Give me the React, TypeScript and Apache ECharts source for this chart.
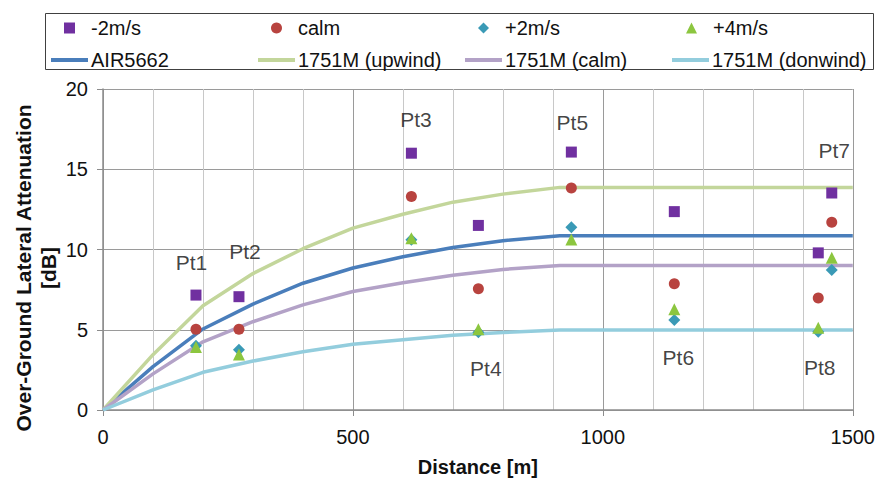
import React, { useEffect, useRef } from "react";
import * as echarts from "echarts";

// Measured points (distance in m)
const pointX = [186, 272, 617, 751, 937, 1143, 1458, 1431];
const minus2 = [7.16, 7.06, 16.0, 11.5, 16.07, 12.36, 13.52, 9.79];
const calm = [5.03, 5.03, 13.3, 7.56, 13.83, 7.87, 11.7, 6.98];
const plus2 = [4.0, 3.75, 10.6, 4.85, 11.39, 5.61, 8.72, 4.87];
const plus4 = [3.93, 3.46, 10.7, 5.03, 10.62, 6.27, 9.48, 5.13];

// Model curves
const lineX = [0, 100, 200, 300, 400, 500, 600, 700, 800, 914, 1500];
const air5662 = [0, 2.7, 5.05, 6.6, 7.9, 8.85, 9.55, 10.12, 10.55, 10.86, 10.86];
const m1751Up = [0, 3.45, 6.5, 8.5, 10.05, 11.33, 12.2, 12.95, 13.45, 13.87, 13.87];
const m1751Calm = [0, 2.25, 4.25, 5.5, 6.55, 7.38, 7.93, 8.4, 8.76, 9.0, 9.0];
const m1751Down = [0, 1.25, 2.35, 3.05, 3.63, 4.1, 4.38, 4.65, 4.83, 4.99, 4.99];

// Point annotations
const ptNames = ["Pt1", "Pt2", "Pt3", "Pt4", "Pt5", "Pt6", "Pt7", "Pt8"];
const ptLabelX = [177, 284, 626, 766, 939, 1151, 1463, 1434];
const ptLabelY = [9.17, 9.89, 18.12, 2.59, 17.9, 3.27, 16.15, 2.65];

const FONT = "'Liberation Sans', Arial, sans-serif";

export default function App() {
  const ref = useRef<HTMLDivElement>(null);
  useEffect(() => {
    if (!ref.current) return;
    const chart = echarts.init(ref.current, undefined, { renderer: "svg" });
    const pts = (ys: number[]) => pointX.map((x, i) => [x, ys[i]]);
    const ln = (ys: number[]) => lineX.map((x, i) => [x, ys[i]]);
    const lineSeries = (name: string, ys: number[], color: string) => ({
      type: "line",
      name,
      data: ln(ys),
      symbol: "none",
      smooth: false,
      lineStyle: { color, width: 3.5 },
      itemStyle: { color },
      z: 2,
    });
    const scatterSeries = (name: string, ys: number[], symbol: string, color: string, size: number) => ({
      type: "scatter",
      name,
      data: pts(ys),
      symbol,
      symbolSize: size,
      itemStyle: { color, opacity: 1 },
      z: 3,
    });
    const scatterLegend = (name: string, left: number, top: number) => ({
      left,
      top,
      padding: 0,
      itemWidth: 11,
      itemHeight: 11,
      data: [name],
      textStyle: { fontSize: 20, color: "#111", fontFamily: FONT, padding: [0, 0, 0, 11] },
    });
    const lineLegend = (name: string, left: number, top: number) => ({
      left,
      top,
      padding: 0,
      itemWidth: 37,
      itemHeight: 4,
      icon: "rect",
      data: [name],
      textStyle: { fontSize: 20, color: "#111", fontFamily: FONT, padding: [0, 0, 0, -2] },
    });
    const option: any = {
      animation: false,
      textStyle: { fontFamily: FONT },
      grid: { left: 103, right: 25, top: 89, bottom: 71, containLabel: false },
      legend: [
        scatterLegend("-2m/s", 64, 18),
        scatterLegend("calm", 271, 18),
        scatterLegend("+2m/s", 478, 18),
        scatterLegend("+4m/s", 686, 18),
        lineLegend("AIR5662", 51, 50),
        lineLegend("1751M (upwind)", 258, 50),
        lineLegend("1751M (calm)", 465, 50),
        lineLegend("1751M (donwind)", 672, 50),
      ],
      graphic: [
        {
          type: "rect",
          shape: { x: 45.5, y: 13.5, width: 828, height: 56 },
          style: { fill: "none", stroke: "#404040", lineWidth: 1 },
          silent: true,
        },
        {
          type: "text",
          x: 36,
          y: 268,
          rotation: Math.PI / 2,
          style: {
            text: "Over-Ground Lateral Attenuation\n[dB]",
            fontSize: 21,
            fontWeight: "bold",
            fontFamily: FONT,
            fill: "#111",
            align: "center",
            verticalAlign: "middle",
            lineHeight: 25,
          },
          silent: true,
        },
      ],
      xAxis: {
        type: "value",
        min: 0,
        max: 1500,
        interval: 500,
        name: "Distance [m]",
        nameLocation: "middle",
        nameGap: 47,
        nameTextStyle: { fontSize: 20, fontWeight: "bold", color: "#111", fontFamily: FONT },
        axisLine: { show: true, lineStyle: { color: "#8c8c8c", width: 1.5 } },
        axisTick: { show: true, inside: false, length: 6, lineStyle: { color: "#8c8c8c" } },
        axisLabel: { fontSize: 20, color: "#111", margin: 17, fontFamily: FONT, formatter: (v: number) => String(v) },
        splitLine: { show: true, lineStyle: { color: "#9a9a9a", width: 1 } },
        minorTick: { show: false, splitNumber: 5 },
        minorSplitLine: { show: true, lineStyle: { color: "#c8c8c8", width: 1 } },
      },
      yAxis: {
        type: "value",
        min: 0,
        max: 20,
        interval: 5,
        axisLine: { show: true, lineStyle: { color: "#8c8c8c", width: 1.5 } },
        axisTick: { show: true, inside: false, length: 6, lineStyle: { color: "#8c8c8c" } },
        axisLabel: { fontSize: 20, color: "#111", margin: 15, fontFamily: FONT, formatter: (v: number) => String(v) },
        splitLine: { show: true, lineStyle: { color: "#9a9a9a", width: 1 } },
      },
      series: [
        lineSeries("AIR5662", air5662, "#4a7ebb"),
        lineSeries("1751M (upwind)", m1751Up, "#c3d69b"),
        lineSeries("1751M (calm)", m1751Calm, "#b3a2c7"),
        lineSeries("1751M (donwind)", m1751Down, "#93cddd"),
        scatterSeries("-2m/s", minus2, "rect", "#7030a0", 11),
        scatterSeries("calm", calm, "circle", "#b8433f", 11),
        scatterSeries("+2m/s", plus2, "diamond", "#3a9ab6", 12),
        scatterSeries("+4m/s", plus4, "triangle", "#8cc63f", 12),
        {
          type: "scatter",
          name: "labels",
          symbolSize: 0,
          silent: true,
          data: ptNames.map((n, i) => ({ name: n, value: [ptLabelX[i], ptLabelY[i]] })),
          label: {
            show: true,
            position: "inside",
            formatter: (p: any) => p.name,
            fontSize: 21,
            color: "#111",
            fontFamily: FONT,
          },
          z: 4,
        },
      ],
    };
    chart.setOption(option);
    return () => chart.dispose();
  }, []);
  return (
    <div
      ref={ref}
      style={{ position: "fixed", left: 0, top: 0, width: 878, height: 482, background: "#fff" }}
    />
  );
}
